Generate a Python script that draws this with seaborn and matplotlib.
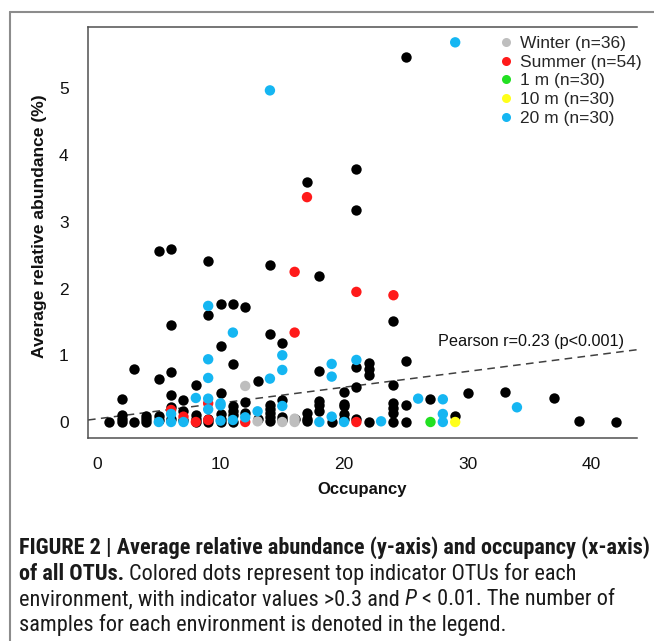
import numpy as np
import pandas as pd
import matplotlib
matplotlib.use("Agg")
import matplotlib.pyplot as plt
import seaborn as sns
from matplotlib import font_manager
from matplotlib.lines import Line2D
from matplotlib.transforms import IdentityTransform

# --- data ---
# all OTUs (black dots): occupancy (number of samples) and average relative abundance (%)
otu_occupancy = [1,
                 2, 2, 2, 2,
                 3, 3,
                 4, 4, 4,
                 5, 5, 5, 5,
                 6, 6, 6, 6, 6, 6,
                 7, 7, 7,
                 8, 8, 8, 8,
                 9, 9, 9, 9,
                 10, 10, 10, 10, 10, 10,
                 11, 11, 11, 11, 11, 11,
                 12, 12, 12,
                 13, 13,
                 14, 14, 14, 14, 14, 14, 14,
                 15, 15, 15, 15,
                 16,
                 17, 17, 17, 17,
                 18, 18, 18, 18, 18,
                 19,
                 20, 20, 20, 20, 20,
                 21, 21, 21, 21, 21,
                 22, 22, 22, 22,
                 24, 24, 24, 24, 24, 24,
                 25, 25, 25, 25,
                 27, 29, 30, 33, 37, 39, 42]
otu_abundance = [0,
                 0, 0.05, 0.10, 0.35,
                 0, 0.79,
                 0, 0.04, 0.09,
                 0.03, 0.09, 0.64, 2.57,
                 0.05, 0.22, 0.40, 0.75, 1.45, 2.59,
                 0.03, 0.17, 0.33,
                 0, 0.04, 0.11, 0.55,
                 0, 0.05, 1.61, 2.42,
                 0, 0.05, 0.12, 0.44, 1.14, 1.77,
                 0, 0.10, 0.17, 0.24, 0.87, 1.77,
                 0.14, 0.30, 1.73,
                 0.05, 0.62,
                 0.02, 0.08, 0.13, 0.20, 0.25, 1.32, 2.35,
                 0.03, 0.08, 0.33, 1.19,
                 0.05,
                 0.01, 0.05, 0.13, 3.60,
                 0.16, 0.25, 0.32, 0.77, 2.19,
                 0,
                 0.05, 0.12, 0.24, 0.27, 0.45,
                 0.05, 0.52, 0.82, 3.18, 3.79,
                 0, 0.71, 0.80, 0.89,
                 0, 0.14, 0.21, 0.29, 0.55, 1.52,
                 0, 0.26, 0.91, 5.47,
                 0.35, 0.09, 0.44, 0.45, 0.36, 0.02, 0]

# top indicator OTUs per environment
winter_occ = [12, 13, 15, 16, 16]
winter_abund = [0.54, 0.01, 0, 0.05, 0]
summer_occ = [17, 16, 21, 24, 16, 6, 7, 8, 9, 9, 12, 21]
summer_abund = [3.37, 2.25, 1.95, 1.90, 1.34, 0.18, 0.08, 0, 0.28, 0.03, 0, 0]
m1_occ = [27]
m1_abund = [0]
m10_occ = [29]
m10_abund = [0]
m20_occ = [14, 29, 9, 11, 15, 21, 9, 19, 15, 19, 9, 14, 8, 9, 10, 10, 15, 9, 13, 6,
           12, 19, 26, 28, 28, 34, 5, 6, 7, 10, 11, 18, 20, 23, 28]
m20_abund = [4.97, 5.69, 1.74, 1.34, 1.00, 0.93, 0.94, 0.87, 0.78, 0.68, 0.66, 0.65, 0.36, 0.35,
             0.28, 0.25, 0.24, 0.19, 0.16, 0.12, 0.07, 0.08, 0.35, 0.34, 0.12, 0.22, 0, 0, 0,
             0.02, 0.03, 0, 0, 0.01, 0]

groups = ["Winter (n=36)", "Summer (n=54)", "1 m (n=30)", "10 m (n=30)", "20 m (n=30)"]
group_colors = ["#bebebe", "#ff1a1a", "#22e022", "#ffff1a", "#15b6f2"]

# linear fit shown as dashed line
fit_intercept = 0.047
fit_slope = 0.0237
fit_label = "Pearson r=0.23 (p<0.001)"

x_ticks = [0, 10, 20, 30, 40]
y_ticks = [0, 1, 2, 3, 4, 5]

# --- style ---
sns.set_style("white")
plt.rcParams["font.family"] = ["Liberation Sans", "DejaVu Sans"]
plt.rcParams["axes.edgecolor"] = "#505050"

W, H = 654, 641
fig = plt.figure(figsize=(W / 100, H / 100), dpi=100)
ax = fig.add_axes([88 / W, 1 - 438 / H, (637 - 88) / W, (438 - 27) / H])

ind = pd.concat([
    pd.DataFrame({"occupancy": o, "abundance": a, "group": g})
    for o, a, g in zip([winter_occ, summer_occ, m1_occ, m10_occ, m20_occ],
                       [winter_abund, summer_abund, m1_abund, m10_abund, m20_abund],
                       groups)
], ignore_index=True)

sns.scatterplot(x=otu_occupancy, y=otu_abundance, color="black", s=56,
                linewidth=0, ax=ax, legend=False, zorder=2)
sns.scatterplot(data=ind, x="occupancy", y="abundance", hue="group",
                hue_order=groups, palette=group_colors, s=56, linewidth=0,
                ax=ax, legend=False, zorder=3)

ax.axline((0, fit_intercept), slope=fit_slope, color="#404040", lw=1.1,
          ls=(0, (5, 3.5)), zorder=1)
ax.text(27.6, 1.2, fit_label, fontsize=11.7, va="center", ha="left", color="#111111")

ax.set_xlim(-0.73, 43.72)
ax.set_ylim(-0.24, 5.92)
ax.set_xticks(x_ticks)
ax.set_yticks(y_ticks)
ax.spines["right"].set_visible(False)
for sp in ax.spines.values():
    sp.set_linewidth(1.1)
ax.tick_params(direction="out", length=7, width=1.0, color="#505050",
               labelsize=12.5, pad=7, labelcolor="#111111")

ax.set_xlabel("Occupancy", fontsize=12, fontweight="bold", color="#111111")
ax.set_ylabel("Average relative abundance (%)", fontsize=12.6, fontweight="bold", color="#111111")
ax.xaxis.set_label_coords(0.5, -0.108)
ax.yaxis.set_label_coords(-0.075, 0.515)

handles = [Line2D([], [], marker="o", ls="", color=c, markersize=6.5, markeredgewidth=0)
           for c in group_colors]
ax.legend(handles, groups, loc="upper left", bbox_to_anchor=(499 / W, 1 - 36 / H),
          bbox_transform=fig.transFigure, frameon=False, fontsize=12.5,
          handlelength=0.8, handletextpad=0.4, labelspacing=0.2, borderpad=0,
          borderaxespad=0)

# outer figure frame (left and top)
fig.add_artist(Line2D([10 / W, 10 / W], [0, 1 - 12 / H], transform=fig.transFigure,
                      color="#8c8c8c", lw=1.5))
fig.add_artist(Line2D([10 / W, 1], [1 - 12 / H, 1 - 12 / H], transform=fig.transFigure,
                      color="#8c8c8c", lw=1.5))

# --- caption ---
names = {f.name for f in font_manager.fontManager.ttflist}
cap_family = next((n for n in ["Liberation Sans Narrow", "Roboto Condensed",
                               "Open Sans Condensed"] if n in names), "Liberation Sans")
renderer = fig.canvas.get_renderer()


def text_width(s, size, **kw):
    t = fig.text(0, 0, s, fontsize=size, family=cap_family, transform=IdentityTransform(), **kw)
    w = t.get_window_extent(renderer).width
    t.remove()
    return w


line1 = "FIGURE 2 | Average relative abundance (y-axis) and occupancy (x-axis)"
cap_size = 10 * 631 / text_width(line1, 10, fontweight="bold")

caption = [
    [(line1, "bold", "normal")],
    [("of all OTUs.", "bold", "normal"),
     (" Colored dots represent top indicator OTUs for each", "normal", "normal")],
    [("environment, with indicator values >0.3 and ", "normal", "normal"),
     ("P", "normal", "italic"), (" < 0.01. The number of", "normal", "normal")],
    [("samples for each environment is denoted in the legend.", "normal", "normal")],
]
baselines = [554, 580, 605, 631]
space_w = text_width("x x", cap_size) - text_width("xx", cap_size)

for segs, base in zip(caption, baselines):
    x = 19
    for s, weight, style in segs:
        lead = len(s) - len(s.lstrip(" "))
        x += lead * space_w
        core = s.strip(" ")
        fig.text(x, H - base, core, fontsize=cap_size, fontweight=weight, fontstyle=style,
                 family=cap_family, color="#1a1a1a", transform=IdentityTransform(),
                 va="baseline", ha="left")
        x += text_width(core, cap_size, fontweight=weight, fontstyle=style)
        x += (len(s) - len(s.rstrip(" "))) * space_w

fig.savefig("out.png", dpi=100, facecolor="white")
